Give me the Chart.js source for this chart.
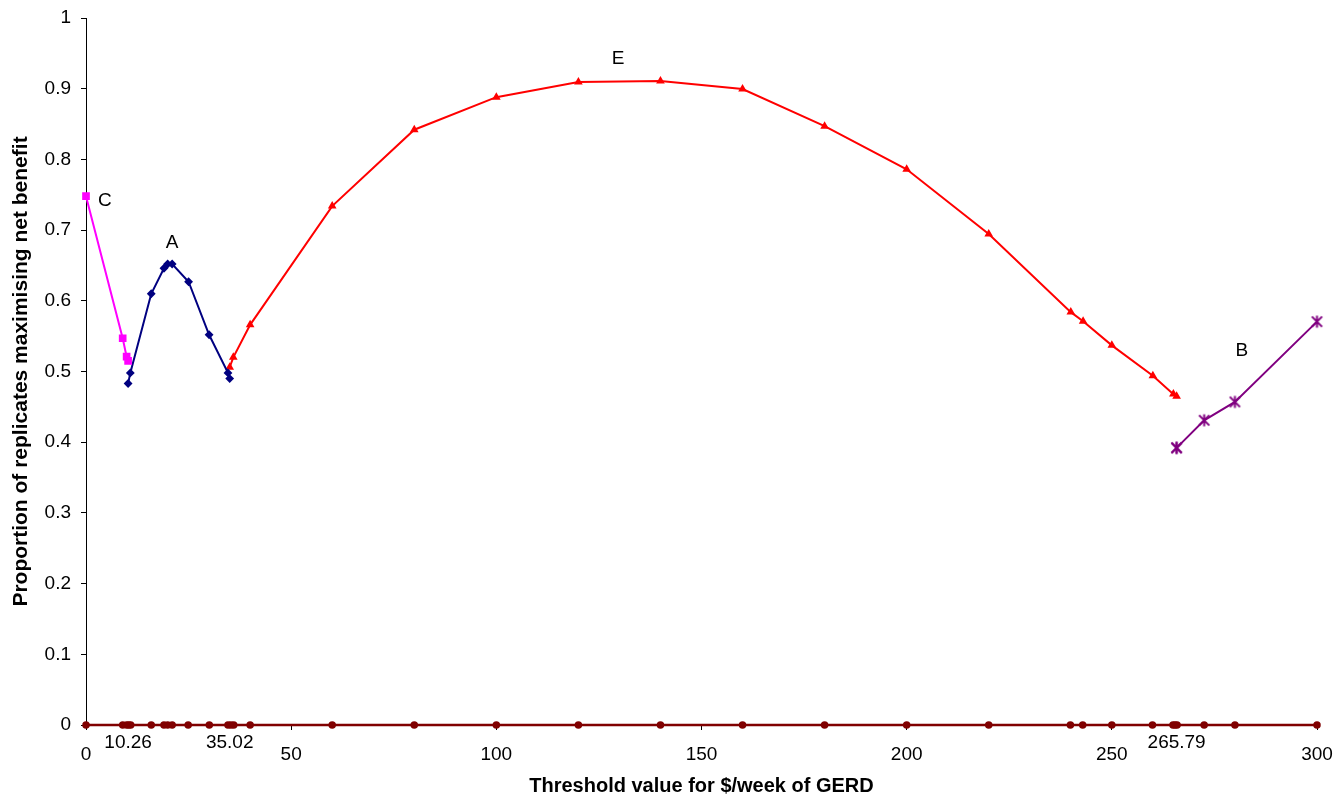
<!DOCTYPE html>
<html><head><meta charset="utf-8">
<script src="https://cdn.jsdelivr.net/npm/chart.js@4/dist/chart.umd.min.js"></script>
<style>html,body{margin:0;padding:0;background:#fff}canvas{display:block}</style>
</head><body><canvas id="c" width="1337" height="803"></canvas>
<script>
// Series C
const cX = [0, 8.94, 9.9, 10.26];
const cY = [0.748, 0.547, 0.521, 0.515];
// Series A
const aX = [10.26, 10.8, 15.9, 19.0, 19.9, 21.0, 25.0, 30.0, 34.6, 35.02];
const aY = [0.483, 0.498, 0.610, 0.646, 0.652, 0.652, 0.627, 0.552, 0.498, 0.490];
// Series E
const eX = [35.02, 35.9, 40, 60, 80, 100, 120, 140, 160, 180, 200, 220, 240, 243, 250, 260, 265, 265.79];
const eY = [0.506, 0.520, 0.566, 0.734, 0.842, 0.888, 0.9095, 0.911, 0.8996, 0.847, 0.786, 0.6945, 0.584, 0.571, 0.537, 0.494, 0.468, 0.465];
// Series B
const bX = [265.79, 265.79, 272.5, 280, 300];
const bY = [0.392, 0.392, 0.431, 0.457, 0.5705];
// Baseline (all thresholds at zero)
const baseX = [0, 8.94, 9.9, 10.4, 10.9, 15.9, 19.0, 19.9, 21.0, 24.9, 30.05, 34.6, 35.3, 36.0, 40, 60, 80, 100, 120, 140, 160, 180, 200, 220, 239.9, 242.9, 250, 259.9, 264.9, 265.4, 265.9, 272.5, 280, 300];
const baseY = [0, 0, 0, 0, 0, 0, 0, 0, 0, 0, 0, 0, 0, 0, 0, 0, 0, 0, 0, 0, 0, 0, 0, 0, 0, 0, 0, 0, 0, 0, 0, 0, 0, 0];
// Special x labels
const specialTicks = [10.26, 35.02, 265.79];
// Curve labels
const curveNames = ['C', 'A', 'E', 'B'];
const curveNameX = [4.6, 21, 129.7, 281.7];
const curveNameY = [0.741, 0.682, 0.942, 0.530];

const FONT = "'Liberation Sans', Arial, sans-serif";
const pts = (xs, ys) => xs.map((x, i) => ({x, y: ys[i]}));

// asterisk-like marker (X with vertical bar)
function makeAsterisk(color) {
  const s = 15, c = document.createElement('canvas');
  c.width = s; c.height = s;
  const g = c.getContext('2d');
  g.strokeStyle = color; g.lineWidth = 2; g.lineCap = 'butt';
  const m = s / 2, r = 6;
  g.beginPath();
  g.moveTo(m - r * 0.85, m - r * 0.85); g.lineTo(m + r * 0.85, m + r * 0.85);
  g.moveTo(m + r * 0.85, m - r * 0.85); g.lineTo(m - r * 0.85, m + r * 0.85);
  g.moveTo(m, m - r); g.lineTo(m, m + r);
  g.stroke();
  return c;
}

const textPlugin = {
  id: 'texts',
  afterDatasetsDraw(chart) {
    const ctx = chart.ctx, xs = chart.scales.x, ys = chart.scales.y;
    ctx.save();
    ctx.fillStyle = '#000';
    ctx.font = '19px ' + FONT;
    ctx.textAlign = 'center';
    ctx.textBaseline = 'middle';
    specialTicks.forEach(v => {
      ctx.fillText(String(v), xs.getPixelForValue(v), 743);
    });
    curveNames.forEach((n, i) => {
      ctx.fillText(n, xs.getPixelForValue(curveNameX[i]), ys.getPixelForValue(curveNameY[i]));
    });
    ctx.restore();
  }
};

const common = {showLine: true, borderWidth: 2, tension: 0, fill: false, clip: false};

new Chart(document.getElementById('c'), {
  type: 'scatter',
  data: {
    datasets: [
      {...common, label: 'C', data: pts(cX, cY), borderColor: '#FF00FF', backgroundColor: '#FF00FF', pointStyle: 'rect', pointRadius: 4},
      {...common, label: 'A', data: pts(aX, aY), borderColor: '#000080', backgroundColor: '#000080', pointStyle: 'rectRot', pointRadius: 3},
      {...common, label: 'E', data: pts(eX, eY), borderColor: '#FF0000', backgroundColor: '#FF0000', pointStyle: 'triangle', pointRadius: 3},
      {...common, label: 'B', data: pts(bX, bY), borderColor: '#800080', backgroundColor: '#800080', pointStyle: makeAsterisk('#800080'), pointRadius: 6},
      {...common, label: 'base', data: pts(baseX, baseY), borderColor: '#800000', backgroundColor: '#800000', pointStyle: 'circle', pointRadius: 2.5, borderWidth: 2.5}
    ]
  },
  options: {
    responsive: false,
    animation: false,
    devicePixelRatio: 1,
    layout: {padding: {top: 18, right: 20, bottom: 0, left: 0}},
    plugins: {legend: {display: false}, tooltip: {enabled: false}},
    scales: {
      x: {
        type: 'linear', min: 0, max: 300,
        ticks: {stepSize: 50, color: '#000', font: {family: FONT, size: 19}, padding: 13, maxRotation: 0},
        grid: {drawOnChartArea: false, drawTicks: true, tickLength: 5, color: '#000'},
        border: {display: true, color: '#000', width: 1},
        title: {display: true, text: 'Threshold value for $/week of GERD', color: '#000', font: {family: FONT, size: 20, weight: 'bold'}, padding: {top: 0, bottom: 5}},
        afterFit(s) { s.height = 78; s.paddingLeft = 0; s.paddingRight = 0; }
      },
      y: {
        min: 0, max: 1,
        ticks: {stepSize: 0.1, color: '#000', font: {family: FONT, size: 19}, padding: 10, callback: v => String(+v.toFixed(1))},
        grid: {drawOnChartArea: false, drawTicks: true, tickLength: 5, color: '#000'},
        border: {display: true, color: '#000', width: 1},
        title: {display: true, text: 'Proportion of replicates maximising net benefit', color: '#000', font: {family: FONT, size: 21, weight: 'bold'}, padding: {top: 9, bottom: 0}},
        afterFit(s) { s.width = 86; s.paddingTop = 0; s.paddingBottom = 0; }
      }
    }
  },
  plugins: [textPlugin]
});
</script>
</body></html>
